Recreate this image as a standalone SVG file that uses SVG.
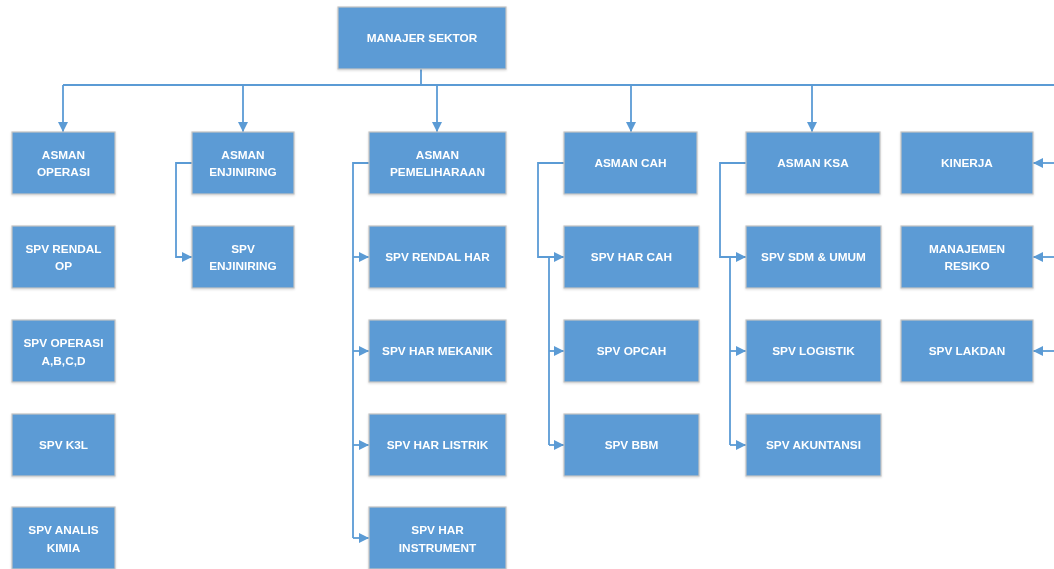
<svg xmlns="http://www.w3.org/2000/svg" width="1054" height="569" viewBox="0 0 1054 569">
<style>
.box{fill:#5B9BD5;stroke:#C4C4C4;stroke-width:1.2}
.t{font-family:"Liberation Sans",Arial,sans-serif;font-size:11.8px;font-weight:bold;fill:#FFFFFF;text-anchor:middle;dominant-baseline:central}
.c{fill:none;stroke:#5B9BD5;stroke-width:1.8}
.a{marker-end:url(#ah)}
</style>
<defs>
<marker id="ah" markerUnits="userSpaceOnUse" markerWidth="10" markerHeight="10" viewBox="0 0 10 10" refX="10" refY="5" orient="auto">
<path d="M0,0 L10,5 L0,10 z" fill="#5B9BD5"/>
</marker>
<filter id="sh" x="-10%" y="-10%" width="120%" height="130%">
<feDropShadow dx="0" dy="1" stdDeviation="1" flood-color="#000" flood-opacity="0.15"/>
</filter>
</defs>
<rect width="1054" height="569" fill="#FFFFFF"/>
<g id="connectors">
<path class="c" d="M421,69 V85"/>
<path class="c" d="M63,85 H1054"/>
<path class="c a" d="M63,85 V132"/>
<path class="c a" d="M243,85 V132"/>
<path class="c a" d="M437,85 V132"/>
<path class="c a" d="M631,85 V132"/>
<path class="c a" d="M812,85 V132"/>
<path class="c a" d="M192,163 H176 V257 H192"/>
<path class="c" d="M369,163 H353 V538"/>
<path class="c a" d="M353,257 H369"/>
<path class="c a" d="M353,351 H369"/>
<path class="c a" d="M353,445 H369"/>
<path class="c a" d="M353,538 H369"/>
<path class="c a" d="M564,163 H538 V257 H564"/>
<path class="c" d="M549,257 V445"/>
<path class="c a" d="M549,351 H564"/>
<path class="c a" d="M549,445 H564"/>
<path class="c a" d="M746,163 H720 V257 H746"/>
<path class="c" d="M730,257 V445"/>
<path class="c a" d="M730,351 H746"/>
<path class="c a" d="M730,445 H746"/>
<path class="c a" d="M1060,163 H1033"/>
<path class="c a" d="M1060,257 H1033"/>
<path class="c a" d="M1060,351 H1033"/>
</g>
<g id="n-manajer" filter="url(#sh)"><rect class="box" x="338" y="7" width="168" height="62"/><text class="t" x="422" y="38">MANAJER SEKTOR</text></g>
<g id="n-asman-operasi" filter="url(#sh)"><rect class="box" x="12" y="132" width="103" height="62"/><text class="t" x="63.5" y="155">ASMAN</text><text class="t" x="63.5" y="172">OPERASI</text></g>
<g id="n-asman-enjiniring" filter="url(#sh)"><rect class="box" x="192" y="132" width="102" height="62"/><text class="t" x="243" y="155">ASMAN</text><text class="t" x="243" y="172">ENJINIRING</text></g>
<g id="n-asman-pemeliharaan" filter="url(#sh)"><rect class="box" x="369" y="132" width="137" height="62"/><text class="t" x="437.5" y="155">ASMAN</text><text class="t" x="437.5" y="172">PEMELIHARAAN</text></g>
<g id="n-asman-cah" filter="url(#sh)"><rect class="box" x="564" y="132" width="133" height="62"/><text class="t" x="630.5" y="163">ASMAN CAH</text></g>
<g id="n-asman-ksa" filter="url(#sh)"><rect class="box" x="746" y="132" width="134" height="62"/><text class="t" x="813" y="163">ASMAN KSA</text></g>
<g id="n-kinerja" filter="url(#sh)"><rect class="box" x="901" y="132" width="132" height="62"/><text class="t" x="967" y="163">KINERJA</text></g>
<g id="n-spv-rendal-op" filter="url(#sh)"><rect class="box" x="12" y="226" width="103" height="62"/><text class="t" x="63.5" y="249">SPV RENDAL</text><text class="t" x="63.5" y="266">OP</text></g>
<g id="n-spv-operasi" filter="url(#sh)"><rect class="box" x="12" y="320" width="103" height="62"/><text class="t" x="63.5" y="343">SPV OPERASI</text><text class="t" x="63.5" y="361">A,B,C,D</text></g>
<g id="n-spv-k3l" filter="url(#sh)"><rect class="box" x="12" y="414" width="103" height="62"/><text class="t" x="63.5" y="445">SPV K3L</text></g>
<g id="n-spv-analis-kimia" filter="url(#sh)"><rect class="box" x="12" y="507" width="103" height="62"/><text class="t" x="63.5" y="530">SPV ANALIS</text><text class="t" x="63.5" y="548">KIMIA</text></g>
<g id="n-spv-enjiniring" filter="url(#sh)"><rect class="box" x="192" y="226" width="102" height="62"/><text class="t" x="243" y="249">SPV</text><text class="t" x="243" y="266">ENJINIRING</text></g>
<g id="n-spv-rendal-har" filter="url(#sh)"><rect class="box" x="369" y="226" width="137" height="62"/><text class="t" x="437.5" y="257">SPV RENDAL HAR</text></g>
<g id="n-spv-har-mekanik" filter="url(#sh)"><rect class="box" x="369" y="320" width="137" height="62"/><text class="t" x="437.5" y="351">SPV HAR MEKANIK</text></g>
<g id="n-spv-har-listrik" filter="url(#sh)"><rect class="box" x="369" y="414" width="137" height="62"/><text class="t" x="437.5" y="445">SPV HAR LISTRIK</text></g>
<g id="n-spv-har-instrument" filter="url(#sh)"><rect class="box" x="369" y="507" width="137" height="62"/><text class="t" x="437.5" y="530">SPV HAR</text><text class="t" x="437.5" y="548">INSTRUMENT</text></g>
<g id="n-spv-har-cah" filter="url(#sh)"><rect class="box" x="564" y="226" width="135" height="62"/><text class="t" x="631.5" y="257">SPV HAR CAH</text></g>
<g id="n-spv-opcah" filter="url(#sh)"><rect class="box" x="564" y="320" width="135" height="62"/><text class="t" x="631.5" y="351">SPV OPCAH</text></g>
<g id="n-spv-bbm" filter="url(#sh)"><rect class="box" x="564" y="414" width="135" height="62"/><text class="t" x="631.5" y="445">SPV BBM</text></g>
<g id="n-spv-sdm" filter="url(#sh)"><rect class="box" x="746" y="226" width="135" height="62"/><text class="t" x="813.5" y="257">SPV SDM &amp; UMUM</text></g>
<g id="n-spv-logistik" filter="url(#sh)"><rect class="box" x="746" y="320" width="135" height="62"/><text class="t" x="813.5" y="351">SPV LOGISTIK</text></g>
<g id="n-spv-akuntansi" filter="url(#sh)"><rect class="box" x="746" y="414" width="135" height="62"/><text class="t" x="813.5" y="445">SPV AKUNTANSI</text></g>
<g id="n-manajemen-resiko" filter="url(#sh)"><rect class="box" x="901" y="226" width="132" height="62"/><text class="t" x="967" y="249">MANAJEMEN</text><text class="t" x="967" y="266">RESIKO</text></g>
<g id="n-spv-lakdan" filter="url(#sh)"><rect class="box" x="901" y="320" width="132" height="62"/><text class="t" x="967" y="351">SPV LAKDAN</text></g>
</svg>
